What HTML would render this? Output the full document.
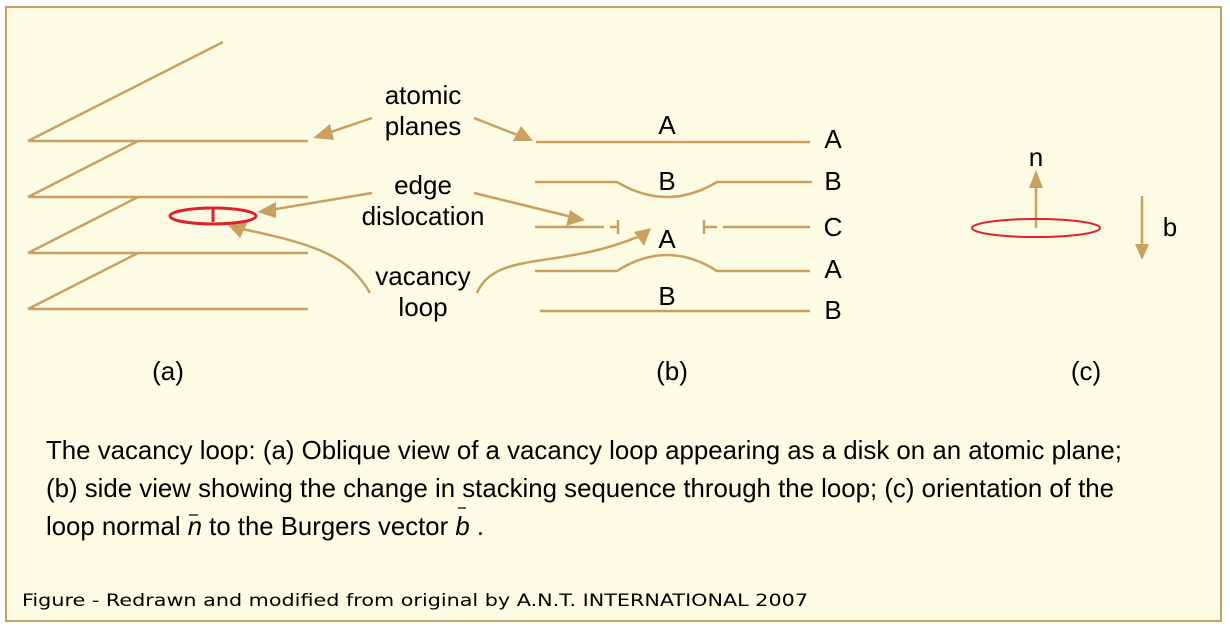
<!DOCTYPE html>
<html><head><meta charset="utf-8"><style>
html,body{margin:0;padding:0;background:#fff;}
svg{display:block;}
text{font-family:"Liberation Sans",Arial,sans-serif;fill:#000;}
</style></head><body>
<svg width="1230" height="631" viewBox="0 0 1230 631" xmlns="http://www.w3.org/2000/svg">
<rect x="6" y="7" width="1215" height="614" fill="#fefbe4" stroke="#c9a060" stroke-width="2"/>
<g stroke="#c9a060" stroke-width="2.5" fill="none">
<line x1="28" y1="141" x2="223" y2="42"/>
<line x1="28" y1="141" x2="308" y2="141"/>
<line x1="28" y1="197" x2="138" y2="141"/>
<line x1="28" y1="197" x2="308" y2="197"/>
<line x1="28" y1="253" x2="138" y2="197"/>
<line x1="28" y1="253" x2="308" y2="253"/>
<line x1="28" y1="309" x2="138" y2="253"/>
<line x1="28" y1="309" x2="308" y2="309"/>
<line x1="372" y1="118" x2="325" y2="134"/>
<line x1="474" y1="118" x2="520" y2="136"/>
<line x1="372" y1="193" x2="270" y2="210"/>
<line x1="474" y1="193" x2="572" y2="217"/>
<path d="M370 293 C350 258 320 245 242 229"/>
<path d="M477 293 C495 250 560 270 640 236"/>
<line x1="536" y1="142" x2="810" y2="142"/>
<path d="M535 182 H617 Q642 197 667 197 Q692 197 717 182 H812"/>
<path d="M535 227 H618"/>
<line x1="618" y1="220" x2="618" y2="234"/>
<path d="M704 227 H810"/>
<line x1="704" y1="220" x2="704" y2="234"/>
<path d="M535 271 H617 Q642 255 667 255 Q692 255 717 271 H810"/>
<line x1="540" y1="311" x2="810" y2="311"/>
<line x1="1036" y1="228" x2="1036" y2="185"/>
<line x1="1142" y1="196" x2="1142" y2="248"/>
</g>
<g fill="#c9a060">
<polygon points="313,138 330,124 334,140"/>
<polygon points="533,141 513,141 521,126"/>
<polygon points="257,212 276,202 276,218"/>
<polygon points="585,220 566,226 570,210"/>
<polygon points="228,225 248,222 240,238"/>
<polygon points="651,228 644,246 634,232"/>
<polygon points="1036,170 1029,188 1043,188"/>
<polygon points="1142,260 1135,244 1149,244"/>
</g>
<ellipse cx="607" cy="227" rx="3" ry="6" fill="#fff8d8"/>
<ellipse cx="720" cy="227" rx="3" ry="6" fill="#fff8d8"/>
<ellipse cx="213" cy="216" rx="43" ry="8" fill="none" stroke="#e0202a" stroke-width="3"/>
<line x1="213" y1="208" x2="213" y2="222" stroke="#e0202a" stroke-width="3"/>
<ellipse cx="1036" cy="228" rx="64" ry="9" fill="none" stroke="#e0202a" stroke-width="2"/>
<g font-size="26" text-anchor="middle">
<text x="423" y="104">atomic</text>
<text x="423" y="135">planes</text>
<text x="423" y="194">edge</text>
<text x="423" y="225">dislocation</text>
<text x="423" y="285">vacancy</text>
<text x="423" y="316">loop</text>
<text x="667" y="134">A</text>
<text x="667" y="190">B</text>
<text x="667" y="248">A</text>
<text x="667" y="305">B</text>
<text x="833" y="148">A</text>
<text x="833" y="190">B</text>
<text x="833" y="236">C</text>
<text x="833" y="278">A</text>
<text x="833" y="319">B</text>
<text x="1036" y="166">n</text>
<text x="1170" y="236">b</text>
<text x="168" y="380">(a)</text>
<text x="672" y="380">(b)</text>
<text x="1086" y="380">(c)</text>
</g>
<g font-size="26">
<text x="46" y="459" textLength="1076" lengthAdjust="spacingAndGlyphs">The vacancy loop: (a) Oblique view of a vacancy loop appearing as a disk on an atomic plane;</text>
<text x="46" y="497" textLength="1068" lengthAdjust="spacingAndGlyphs">(b) side view showing the change in stacking sequence through the loop; (c) orientation of the</text>
<text x="46" y="535" textLength="438" lengthAdjust="spacingAndGlyphs">loop normal <tspan font-style="italic">n</tspan> to the Burgers vector <tspan font-style="italic">b</tspan> .</text>
</g>
<g stroke="#000" stroke-width="1.2"><line x1="189" y1="515" x2="198" y2="515"/><line x1="458" y1="508" x2="466" y2="508"/></g>
<text x="22" y="606" font-size="17" textLength="786" lengthAdjust="spacingAndGlyphs" style="font-family:'DejaVu Sans',sans-serif">Figure - Redrawn and modified from original by A.N.T. INTERNATIONAL 2007</text>
</svg>
</body></html>
